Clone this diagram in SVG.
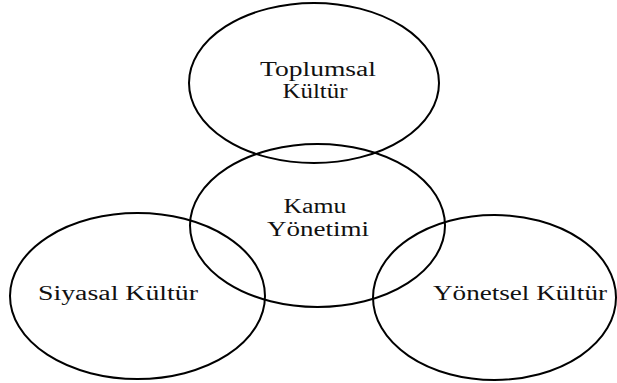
<svg xmlns="http://www.w3.org/2000/svg" width="617" height="383" viewBox="0 0 617 383">
<style>
.c{fill:none;stroke:#000;stroke-width:2}
.t{font-family:"Liberation Serif","Times New Roman",serif;font-size:20px;fill:#111;text-anchor:middle}
</style>
<rect width="617" height="383" fill="#fff"/>
<g id="toplumsal">
<ellipse class="c" cx="314" cy="83" rx="125" ry="80"/>
<text class="t" x="318" y="76" textLength="116" lengthAdjust="spacingAndGlyphs">Toplumsal</text>
<text class="t" x="315" y="98" textLength="65" lengthAdjust="spacingAndGlyphs">Kültür</text>
</g>
<g id="kamu">
<ellipse class="c" cx="317.5" cy="225.5" rx="127.5" ry="81.5"/>
<text class="t" x="315" y="213" textLength="63" lengthAdjust="spacingAndGlyphs">Kamu</text>
<text class="t" x="318" y="236" textLength="102" lengthAdjust="spacingAndGlyphs">Yönetimi</text>
</g>
<g id="siyasal">
<ellipse class="c" cx="137.5" cy="296" rx="127.5" ry="83"/>
<text class="t" x="118" y="300" textLength="160" lengthAdjust="spacingAndGlyphs">Siyasal Kültür</text>
</g>
<g id="yonetsel">
<ellipse class="c" cx="494.5" cy="297.5" rx="121.5" ry="82.5"/>
<text class="t" x="520" y="300" textLength="174" lengthAdjust="spacingAndGlyphs">Yönetsel Kültür</text>
</g>
<g id="connectors"/>
</svg>
